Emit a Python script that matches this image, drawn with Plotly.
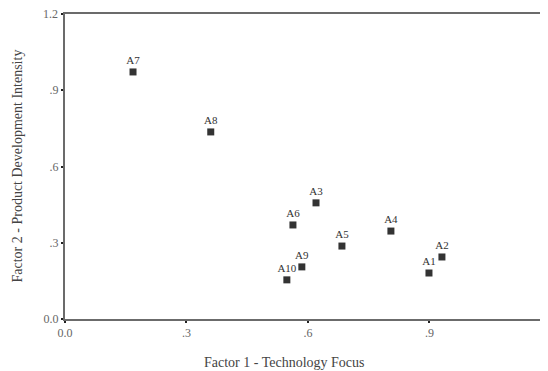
import plotly.graph_objects as go

labels = ["A1", "A2", "A3", "A4", "A5", "A6", "A7", "A8", "A9", "A10"]
factor1 = [0.899, 0.931, 0.620, 0.805, 0.684, 0.563, 0.168, 0.360, 0.585, 0.548]
factor2 = [0.181, 0.244, 0.457, 0.346, 0.287, 0.370, 0.972, 0.736, 0.205, 0.154]

tick_vals = [0.0, 0.3, 0.6, 0.9, 1.2]
tick_text = ["0.0", ".3", ".6", ".9", "1.2"]

font_fam = "Liberation Serif, Times New Roman, serif"

fig = go.Figure()
fig.add_trace(go.Scatter(
    x=factor1, y=factor2, mode="markers+text",
    text=labels, textposition="top center",
    textfont=dict(family=font_fam, size=11, color="#333333"),
    marker=dict(symbol="square", size=7, color="#333333"),
    cliponaxis=False, showlegend=False,
))

axis_common = dict(
    showgrid=False, zeroline=False, showline=True, linecolor="#6b6b6b", linewidth=2,
    ticks="outside", ticklen=2, tickwidth=2, tickcolor="#222222",
    tickfont=dict(family=font_fam, size=12, color="#666666"),
    tickmode="array", tickvals=tick_vals, ticktext=tick_text,
    automargin=False,
)

x_max = 1.193
y_max = 1.2
fig.update_layout(
    width=548, height=371,
    margin=dict(l=57, r=8, t=6, b=60),
    paper_bgcolor="white", plot_bgcolor="white",
    xaxis=dict(range=[0, x_max], mirror=True, **axis_common),
    yaxis=dict(range=[0, y_max], mirror=True, **axis_common),
    annotations=[
        dict(text="Factor 1 - Technology Focus", xref="paper", yref="paper",
             x=(276 - 57) / 483, y=0, yshift=-43, xanchor="center", yanchor="middle",
             showarrow=False, font=dict(family=font_fam, size=14, color="#444444")),
        dict(text="Factor 2 - Product Development Intensity", xref="paper", yref="paper",
             x=0, xshift=-48, y=0.5, textangle=-90, xanchor="center", yanchor="middle",
             showarrow=False, font=dict(family=font_fam, size=14, color="#444444")),
        dict(text=tick_text[-1], xref="paper", yref="paper", x=1.2 / x_max, y=0, yshift=-4,
             xanchor="center", yanchor="top", showarrow=False,
             font=dict(family=font_fam, size=12, color="#666666")),
        dict(text=tick_text[-1], xref="paper", yref="paper", x=0, xshift=-5, y=1.0,
             xanchor="right", yanchor="middle", showarrow=False,
             font=dict(family=font_fam, size=12, color="#666666")),
    ],
)

fig.write_html("out.html")
